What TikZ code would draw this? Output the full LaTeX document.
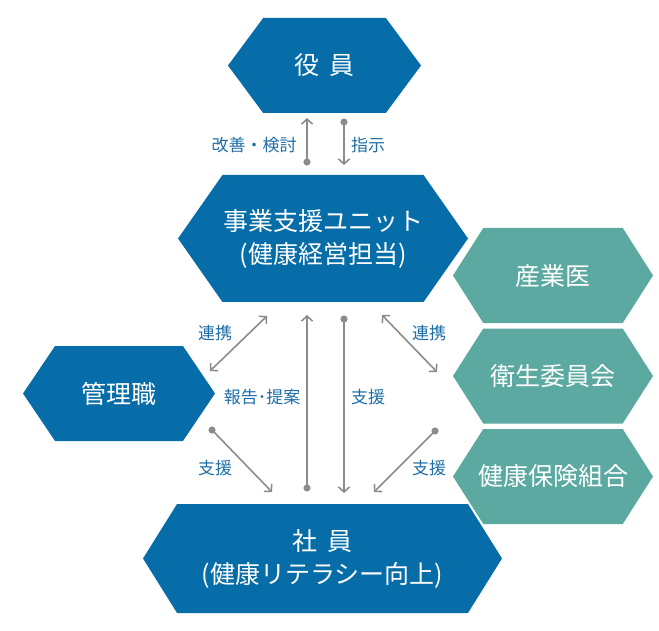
\documentclass[tikz,border=0pt]{standalone}
\usepackage{fontspec}
\setmainfont{Noto Sans CJK JP}
\usepackage{tikz}
\usetikzlibrary{shapes.symbols, arrows.meta, positioning}
\usepackage{xcolor}
\definecolor{CorpBlue}{HTML}{066DA8}
\definecolor{CorpTeal}{HTML}{5BA9A1}
\definecolor{CorpGray}{HTML}{8C8C8C}
\definecolor{CorpText}{HTML}{1D6EA6}
\definecolor{CorpWhite}{HTML}{FFFFFF}
\tikzset{
    % Hexagon styles - pointed on both sides
    mainhex/.style={
        signal,
        signal to=west and east,
        fill=CorpBlue,
        text=CorpWhite,
        inner sep=0pt,
        align=center,
        font=\fontsize{25}{33}\selectfont
    },
    partnerhex/.style={
        signal,
        signal to=west and east,
        fill=CorpTeal,
        text=CorpWhite,
        inner sep=0pt,
        minimum width=200pt,
        minimum height=95pt,
        signal pointer angle=115,
        align=center,
        font=\fontsize{25}{33}\selectfont
    },
    % Arrow styles - straight grey lines
    arrow/.style={
        {Circle[length=7pt]}-{Straight Barb[length=5pt, width=11pt]},
        line width=1.6pt,
        draw=CorpGray
    },
    twoway/.style={
        {Straight Barb[length=5pt, width=11pt]}-{Straight Barb[length=5pt, width=11pt]},
        line width=1.6pt,
        draw=CorpGray
    },
    arrowtext/.style={
        text=CorpText,
        inner sep=0pt,
        font=\fontsize{17}{20}\selectfont
    }
}

\begin{document}
\begin{tikzpicture}[x=1pt, y=-1pt]
    \useasboundingbox (0,0) rectangle (659,631);

    % Hexagons
    \node[mainhex, minimum width=193pt, minimum height=95pt, signal pointer angle=107] (officer) at (324.5,65.5) {役\hspace{0.4em}員};
    \node[mainhex, minimum width=290pt, minimum height=127pt, signal pointer angle=110] (unit) at (323,238.5) {事業支援ユニット\\(健康経営担当)};
    \node[mainhex, minimum width=192pt, minimum height=95pt, signal pointer angle=112] (manager) at (119,393.5) {管理職};
    \node[mainhex, minimum width=359pt, minimum height=109pt, signal pointer angle=116] (staff) at (322.5,558.5) {社\hspace{0.4em}員\\(健康リテラシー向上)};

    \node[partnerhex] (doctor) at (553,275.5) {産業医};
    \node[partnerhex] (committee) at (553,376) {衛生委員会};
    \node[partnerhex] (insurer) at (553,476.5) {\makebox[130pt]{健康保険組合}};

    % Arrow ends
    \coordinate (upA) at (307,165.5);
    \coordinate (upB) at (307,118);
    \coordinate (downA) at (344,118.5);
    \coordinate (downB) at (344,165);

    \coordinate (linkLA) at (267,316);
    \coordinate (linkLB) at (210,371);
    \coordinate (linkRA) at (382,315);
    \coordinate (linkRB) at (437,372);

    \coordinate (reportA) at (307,491.5);
    \coordinate (reportB) at (307,315);
    \coordinate (supportA) at (344,315.5);
    \coordinate (supportB) at (344,493);

    \coordinate (mgrA) at (209.6,427.5);
    \coordinate (mgrB) at (272,492);
    \coordinate (partA) at (437.5,428.5);
    \coordinate (partB) at (374,492);

    % Officers and unit
    \draw[arrow] (upA) -- (upB);
    \draw[arrow] (downA) -- (downB);
    \node[arrowtext] (improve) at (254,145) {改善・検討};
    \node[arrowtext] (instruct) at (368,145) {指示};

    % Cooperation
    \draw[twoway] (linkLA) -- (linkLB);
    \draw[twoway] (linkRA) -- (linkRB);
    \node[arrowtext] (coopL) at (215,333) {連携};
    \node[arrowtext] (coopR) at (429,333) {連携};

    % Unit and staff
    \draw[arrow] (reportA) -- (reportB);
    \draw[arrow] (supportA) -- (supportB);
    \node[arrowtext] (report) at (262,397) {報告･提案};
    \node[arrowtext] (support) at (368,397) {支援};

    % Support for staff
    \draw[arrow] (mgrA) -- (mgrB);
    \draw[arrow] (partA) -- (partB);
    \node[arrowtext] (supportL) at (215,468) {支援};
    \node[arrowtext] (supportR) at (429,468) {支援};
\end{tikzpicture}
\end{document}
